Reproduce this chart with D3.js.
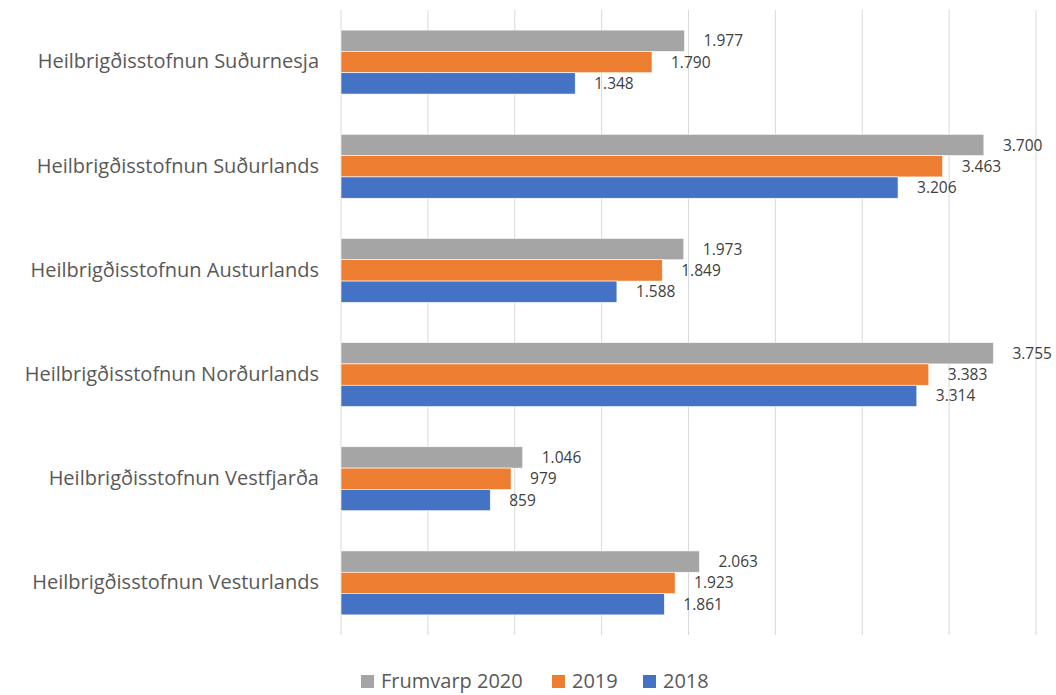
<!DOCTYPE html>
<html>
<head>
<meta charset="utf-8">
<script src="https://cdn.jsdelivr.net/npm/d3@7"></script>
<style>
  body { margin: 0; background: #fff; }
  svg { display: block; font-family: "Open Sans", sans-serif; }
</style>
</head>
<body>
<div id="chart"></div>
<script>
const categories = [
  'Heilbrigðisstofnun Suðurnesja',
  'Heilbrigðisstofnun Suðurlands',
  'Heilbrigðisstofnun Austurlands',
  'Heilbrigðisstofnun Norðurlands',
  'Heilbrigðisstofnun Vestfjarða',
  'Heilbrigðisstofnun Vesturlands'
];
const seriesNames = ['Frumvarp 2020', '2019', '2018'];
const frumvarp2020 = [1977, 3700, 1973, 3755, 1046, 2063];
const y2019 = [1790, 3463, 1849, 3383, 979, 1923];
const y2018 = [1348, 3206, 1588, 3314, 859, 1861];
const xTicks = [0, 500, 1000, 1500, 2000, 2500, 3000, 3500, 4000];

const colors = ['#A5A5A5', '#ED7D31', '#4472C4'];
const seriesValues = [frumvarp2020, y2019, y2018];

const W = 1056, H = 695;
const margin = { top: 10, right: 20, bottom: 60, left: 341 };
const width = W - margin.left - margin.right;
const height = H - margin.top - margin.bottom;

const isl = d3.formatLocale({ decimal: ',', thousands: '.', grouping: [3], currency: ['', ' kr'] });
const fmt = isl.format(',d');

const svg = d3.select('#chart').append('svg')
  .attr('width', W).attr('height', H);
const g = svg.append('g').attr('transform', `translate(${margin.left},${margin.top})`);

const x = d3.scaleLinear().domain([0, 4000]).range([0, width]);
const y0 = d3.scaleBand().domain(categories).range([0, height])
  .paddingInner(0.386).paddingOuter(0.193);
const y1 = d3.scaleBand().domain(seriesNames).range([0, y0.bandwidth()]);

// gridlines
g.append('g').selectAll('line').data(xTicks).join('line')
  .attr('x1', d => x(d)).attr('x2', d => x(d))
  .attr('y1', 0).attr('y2', height)
  .attr('stroke', '#d9d9d9').attr('stroke-width', 1);

const rows = categories.map((c, i) => ({
  category: c,
  values: seriesNames.map((s, j) => ({ key: s, value: seriesValues[j][i], color: colors[j] }))
}));

const groups = g.append('g').selectAll('g').data(rows).join('g')
  .attr('transform', d => `translate(0,${y0(d.category)})`);

groups.selectAll('rect').data(d => d.values).join('rect')
  .attr('x', x(0))
  .attr('y', d => y1(d.key))
  .attr('width', d => x(d.value) - x(0))
  .attr('height', y1.bandwidth())
  .attr('fill', d => d.color)
  .attr('stroke', '#fff').attr('stroke-width', 0.6);

groups.selectAll('text').data(d => d.values).join('text')
  .attr('x', d => x(d.value) + 19)
  .attr('y', d => y1(d.key) + y1.bandwidth() / 2)
  .attr('dy', '0.36em')
  .attr('font-size', 15.5)
  .attr('fill', '#404040')
  .text(d => fmt(d.value));

// category axis
const yAxis = g.append('g')
  .call(d3.axisLeft(y0).tickSize(0).tickPadding(22));
yAxis.select('.domain').remove();
yAxis.selectAll('text')
  .attr('font-size', 20)
  .attr('font-family', '"Open Sans", sans-serif')
  .attr('fill', '#595959');

// legend
const legend = svg.append('g').attr('transform', `translate(0,${H - 7})`);
const legendItems = [
  { name: seriesNames[0], color: colors[0], x: 361 },
  { name: seriesNames[1], color: colors[1], x: 552 },
  { name: seriesNames[2], color: colors[2], x: 643 }
];
legendItems.forEach(it => {
  legend.append('rect').attr('x', it.x).attr('y', -13).attr('width', 13).attr('height', 13).attr('fill', it.color);
  legend.append('text').attr('x', it.x + 20).attr('y', 0)
    .attr('font-size', 20).attr('fill', '#595959').text(it.name);
});
</script>
</body>
</html>
